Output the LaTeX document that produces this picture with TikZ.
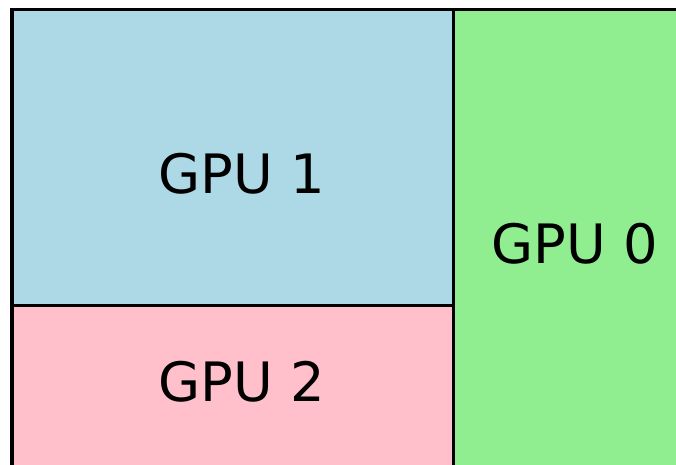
\documentclass[tikz,border=0pt]{standalone}
\usepackage{fontspec}
\setmainfont{DejaVu Sans}
\definecolor{gpublue}{RGB}{173,216,230}
\definecolor{gpugreen}{RGB}{144,238,144}
\definecolor{gpupink}{RGB}{255,192,203}
\tikzset{
  region/.style={draw=black, line width=3pt, line join=miter},
  gpulabel/.style={font=\fontsize{54.3}{62}\selectfont, inner sep=0pt, text=black}
}
\begin{document}
\begin{tikzpicture}[x=1pt,y=-1pt]
\useasboundingbox (0,0) rectangle (676,464);
\fill[white] (0,0) rectangle (676,464);
\begin{scope}
\clip (0,0) rectangle (676,464);
\filldraw[region, fill=gpublue] (12,9.5) rectangle (453,305.5);
\filldraw[region, fill=gpupink] (12,305.5) rectangle (453,480);
\filldraw[region, fill=gpugreen] (453,9.5) rectangle (700,480);
\draw[black, line width=3.5pt] (12,480) -- (12,9.5) -- (700,9.5);
\end{scope}
\node[gpulabel] (g1) at (241.5,174) {GPU 1};
\node[gpulabel] (g2) at (242,382) {GPU 2};
\node[gpulabel] (g0) at (575,243.5) {GPU 0};
\end{tikzpicture}
\end{document}
